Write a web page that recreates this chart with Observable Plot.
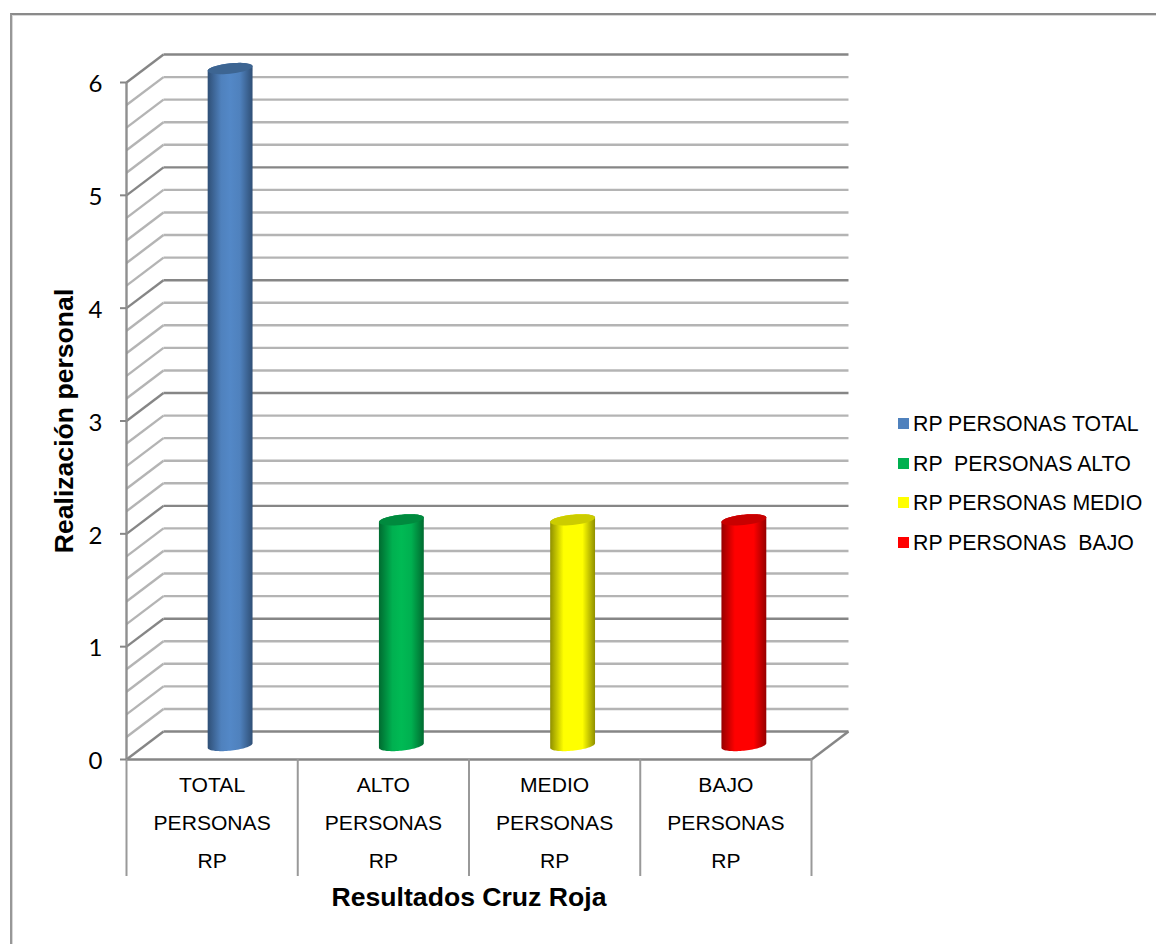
<!DOCTYPE html>
<html>
<head>
<meta charset="utf-8">
<script src="https://cdn.jsdelivr.net/npm/d3@7"></script>
<script src="https://cdn.jsdelivr.net/npm/@observablehq/plot@0.6"></script>
<style>
  html, body { margin: 0; padding: 0; background: #fff; }
  #page { position: relative; width: 1156px; height: 944px; overflow: hidden; font-family: "Liberation Sans", Arial, sans-serif; }
  #frame { position: absolute; left: 10px; top: 13px; width: 1200px; height: 1000px; border-left: 2px solid #979797; border-top: 2px solid #8a8a8a; box-shadow: inset 1px 1px #d8d8d8; box-sizing: border-box; }
  #legend { position: absolute; left: 898px; top: 404px; font-size: 21.3px; color: #000; }
  #legend div { display: flex; align-items: center; height: 39.5px; white-space: pre; }
  #legend span { position: relative; top: 1px; }
  #legend i { display: block; width: 11px; height: 11px; margin-right: 4px; }
</style>
</head>
<body>
<div id="page">
  <div id="frame"></div>
  <div id="chart"></div>
  <div id="legend"></div>
</div>
<script>
// Survey results: personal accomplishment (RP), Cruz Roja
const categories = ["TOTAL\nPERSONAS\nRP", "ALTO\nPERSONAS\nRP", "MEDIO\nPERSONAS\nRP", "BAJO\nPERSONAS\nRP"];
const values = [6, 2, 2, 2];
const seriesNames = ["RP PERSONAS TOTAL", "RP  PERSONAS ALTO", "RP PERSONAS MEDIO", "RP PERSONAS  BAJO"];
const fills = ["#4F81BD", "#00B050", "#FFFF00", "#FF0000"];
const edges = ["#2F4F76", "#006B30", "#8F8F00", "#960000"];
const caps = ["#3D6592", "#008A3E", "#CCCC00", "#C80000"];
const yTicks = [0, 1, 2, 3, 4, 5, 6];
const gridLevels = d3.range(0, 30.5).map((k) => k / 5);

// Oblique depth of the box, in data units of each axis
const depthX = 0.216;
const depthY = 0.248;
const cylShift = 0.105;    // columns stand mid-depth on the floor, category units
const cylRadius = 0.131;   // half a cylinder's width, category units
const cylTilt = 0.02;      // rise of the ellipse's long axis, value units
const cylMinor = 0.046;    // ellipse half-height, value units
const separatorDrop = 1.037; // how far the category separators hang below zero, value units

const isMajor = (v) => Number.isInteger(v);
const minor = gridLevels.filter((v) => !isMajor(v));
const major = gridLevels.filter(isMajor);

// Points around a cylinder end; from/to are angles in radians
function arc(cx, cy, from, to) {
  return d3.range(0, 41).map((k) => {
    const t = from + (to - from) * k / 40;
    return {
      x: cx + cylRadius * Math.cos(t),
      y: cy + cylTilt * Math.cos(t) + cylMinor * Math.sin(t)
    };
  });
}

const cylinderMarks = values.flatMap((v, i) => {
  const cx = i + 0.5 + cylShift;
  const base = depthY / 2;
  // Body runs from the upper ellipse down to the lower one's front edge
  const body = [...arc(cx, v + base, 0, Math.PI), ...arc(cx, base, Math.PI, 2 * Math.PI)];
  const cap = arc(cx, v + base, 0, 2 * Math.PI);
  return [
    Plot.line(body, {x: "x", y: "y", fill: `url(#cyl${i})`, stroke: "none", curve: "linear"}),
    Plot.line(cap, {x: "x", y: "y", fill: caps[i], stroke: "none", curve: "linear"})
  ];
});

const wallLines = (levels, color, width) => [
  // back wall
  Plot.link(levels, {x1: () => depthX, x2: () => 4 + depthX, y1: (d) => d + depthY, y2: (d) => d + depthY, stroke: color, strokeWidth: width}),
  // side wall
  Plot.link(levels, {x1: () => 0, x2: () => depthX, y1: (d) => d, y2: (d) => d + depthY, stroke: color, strokeWidth: width})
];

const chart = Plot.plot({
  width: 1156,
  height: 944,
  marginLeft: 126,
  marginRight: 345,
  marginTop: 82,
  marginBottom: 185,
  style: {background: "transparent", overflow: "visible"},
  x: {domain: [0, 4], axis: null},
  y: {domain: [0, 6], axis: null},
  marks: [
    ...wallLines(minor, "#b4b4b4", 2.4),
    ...wallLines(major, "#868686", 2.4),
    // right edge of the floor
    Plot.link([0], {x1: () => 4, x2: () => 4 + depthX, y1: () => 0, y2: () => depthY, stroke: "#868686", strokeWidth: 2.4}),
    // front axis lines and category separators
    Plot.ruleX([0], {y1: 0, y2: 6, stroke: "#8f8f8f", strokeWidth: 2.4}),
    Plot.ruleY([0], {x1: 0, x2: 4, stroke: "#868686", strokeWidth: 2.4}),
    Plot.ruleX(d3.range(0, 5), {y1: 0, y2: -separatorDrop, stroke: "#999", strokeWidth: 2}),
    // tick marks keep their place; the digits sit a pixel lower than the ticks
    Plot.axisY({
      ticks: yTicks,
      tickSize: 6,
      text: null,
      stroke: "#868686",
      strokeWidth: 2,
      label: null
    }),
    Plot.axisY({
      ticks: yTicks,
      tickSize: 0,
      tickPadding: 24,
      tickFormat: (d) => String(d),
      fontSize: 24,
      fontFamily: "Lato",
      dy: 2,
      fill: "#000",
      label: null
    }),
    ...cylinderMarks,
    // category labels below the front edge
    Plot.text(categories, {
      x: (d, i) => i + 0.5,
      y: () => 0,
      dy: 58,
      text: (d) => d,
      lineAnchor: "middle",
      lineHeight: 1.8,
      fontSize: 21.1,
      fill: "#000"
    }),
    Plot.text(["Resultados Cruz Roja"], {
      x: () => 2, y: () => 0, dy: 138, text: (d) => d,
      fontSize: 26.6, fontWeight: "bold", fill: "#000"
    }),
    Plot.text(["Realización personal"], {
      x: () => 0, y: () => 3, dx: -62, dy: 0, rotate: -90, text: (d) => d,
      fontSize: 26.6, fontWeight: "bold", fill: "#000"
    })
  ]
});

chart.style.position = "absolute";
chart.style.left = "0";
chart.style.top = "0";
chart.style.fontFamily = '"Liberation Sans", Arial, sans-serif';

// Horizontal shading that gives each column its round look
const defs = d3.select(chart).insert("defs", ":first-child");
fills.forEach((c, i) => {
  const g = defs.append("linearGradient").attr("id", `cyl${i}`).attr("x1", 0).attr("x2", 1).attr("y1", 0).attr("y2", 0);
  [[0, edges[i]], [0.3, c], [0.5, d3.color(c).brighter(0.15)], [0.72, c], [1, edges[i]]].forEach(([o, col]) =>
    g.append("stop").attr("offset", o).attr("stop-color", col)
  );
});

document.getElementById("chart").appendChild(chart);

const legend = d3.select("#legend");
seriesNames.forEach((name, i) => {
  const row = legend.append("div");
  row.append("i").style("background", fills[i]);
  row.append("span").text(name);
});
</script>
</body>
</html>
